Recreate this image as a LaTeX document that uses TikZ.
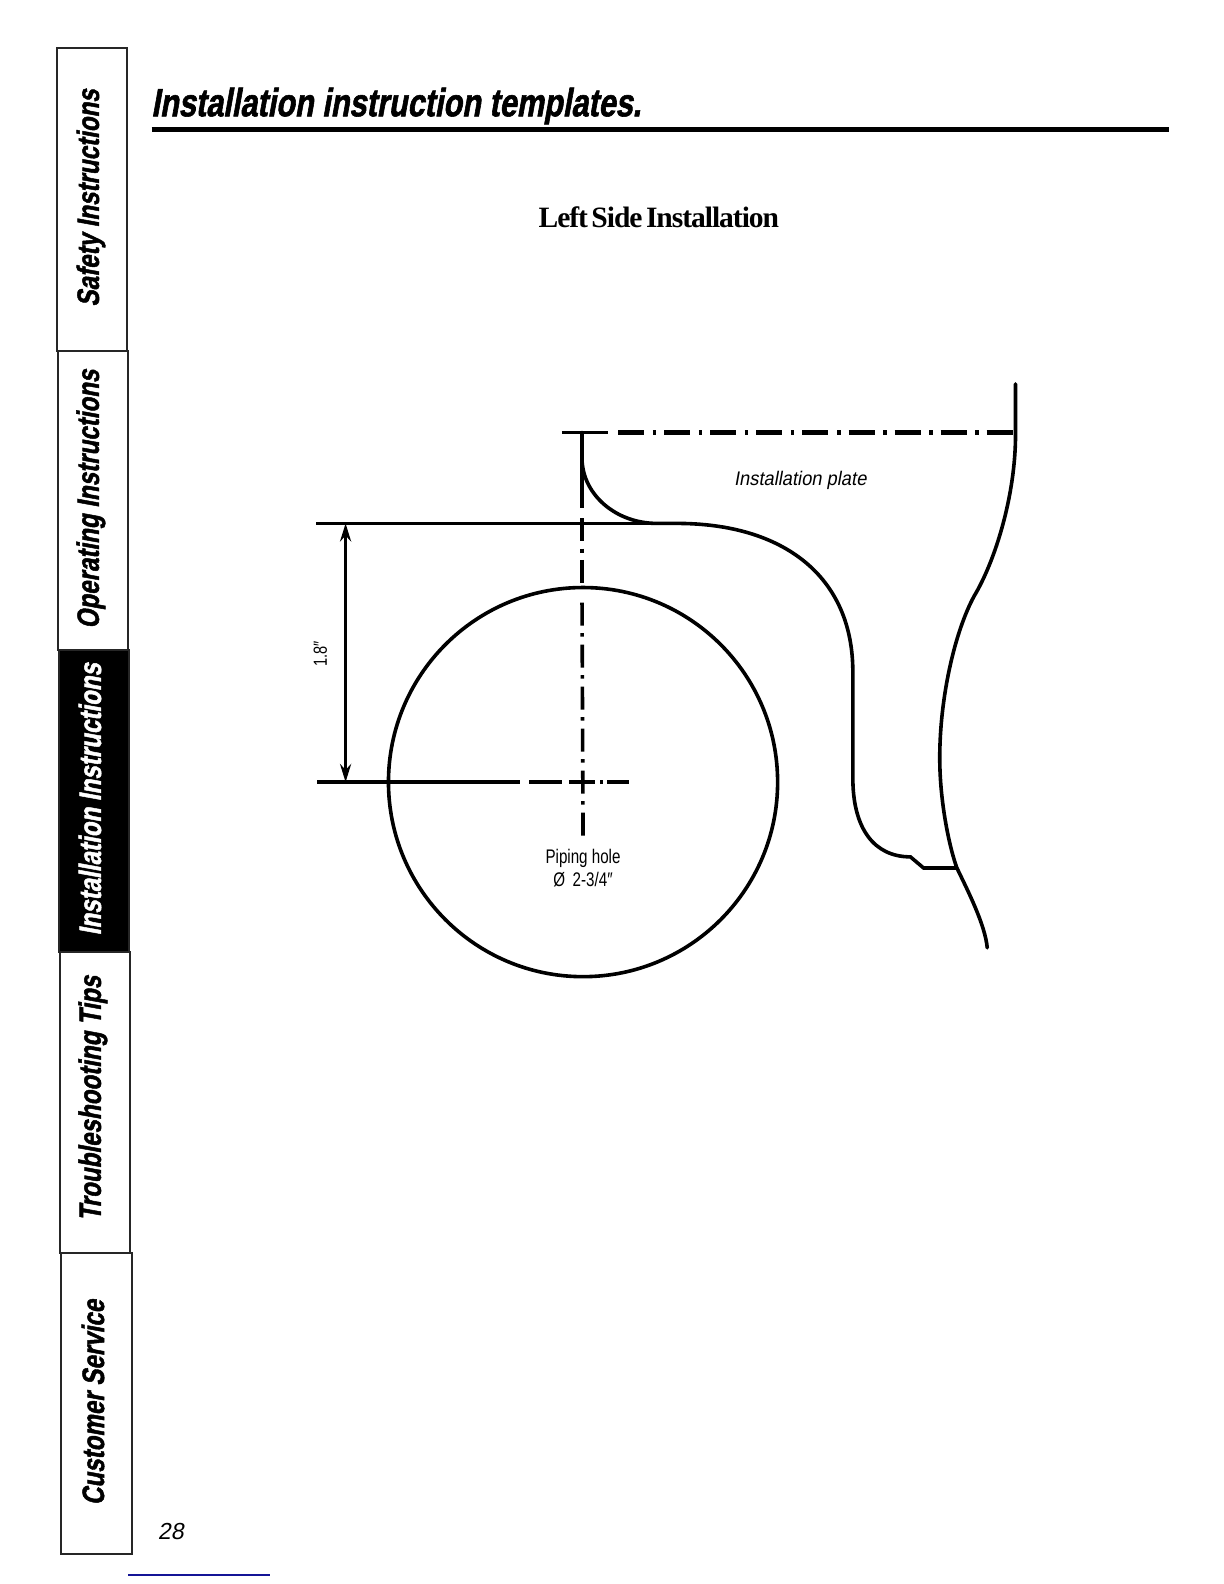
\documentclass[tikz,border=0pt]{standalone}
\usepackage{fontspec}
\usetikzlibrary{arrows.meta}
\setmainfont{Liberation Serif}
\newfontfamily\headfont[FakeStretch=.78,FakeSlant=.18,FakeBold=1.5]{Liberation Sans Bold}
\newfontfamily\subfont[LetterSpace=-3.5,WordSpace=.55]{Liberation Serif Bold}
\newfontfamily\notefont[FakeStretch=.77]{Liberation Sans}
\newfontfamily\noteslant[FakeStretch=.93,FakeSlant=.18]{Liberation Sans}
\newfontfamily\pagefont[FakeSlant=.18]{Liberation Sans}
\definecolor{linkblue}{RGB}{20,20,150}
\tikzset{
    tabbox/.style={draw=black!85,line width=.02cm},
    tablabel/.style={rotate=90,anchor=center,inner sep=0pt,font={\headfont\fontsize{8.8pt}{10pt}\selectfont}},
    outline/.style={line width=.036cm,line cap=round},
    plainline/.style={line width=.036cm},
    planedash/.style={line width=.042cm,dash pattern=on .26cm off .085cm on .035cm off .08cm},
    centerline/.style={line width=.036cm,dash pattern=on .23cm off .08cm on .035cm off .075cm},
    dimline/.style={line width=.033cm},
    note/.style={inner sep=0pt,align=center,font={\notefont\fontsize{5.6pt}{6.4pt}\selectfont}},
}
\begin{document}
\begin{tikzpicture}[x=.010105cm,y=-.010105cm]
    \useasboundingbox (0,0) rectangle (1211.3,1567.6);
    % side tabs
    \draw[tabbox] (56,48) rectangle (126,347);
    \draw[tabbox] (57,347) rectangle (127,643);
    \draw[tabbox,fill=black] (58,643) rectangle (128,942);
    \draw[tabbox] (59,942) rectangle (129,1240);
    \draw[tabbox] (60,1240) rectangle (131,1538);
    \node[tablabel] (safety) at (90,196) {Safety Instructions};
    \node[tablabel] (operating) at (90,494) {Operating Instructions};
    \node[tablabel,text=white] (installing) at (89,791) {Installation Instructions};
    \node[tablabel] (trouble) at (92,1087) {Troubleshooting Tips};
    \node[tablabel] (service) at (92,1388) {Customer Service};
    % heading
    \node[anchor=west,inner sep=0pt,font={\headfont\fontsize{11.2pt}{13pt}\selectfont}] (title) at (149,105) {Installation instruction templates.};
    \draw[line width=.045cm] (150,128) -- (1157,128);
    \node[inner sep=0pt,font={\subfont\fontsize{8.4pt}{9pt}\selectfont}] (subtitle) at (652,215) {Left Side Installation};
    % plate
    \draw[outline] (1005,380) -- (1005,430) .. controls (1005,490) and (985,555) .. (964,590)
        .. controls (945,625) and (930,690) .. (930,750)
        .. controls (930,795) and (940,840) .. (947,859) .. controls (957,880) and (975,915) .. (977,938);
    \draw[outline] (576,428) -- (576,455) .. controls (577,490) and (610,518) .. (650,518)
        -- (670,518) .. controls (775,518) and (844,570) .. (844,665)
        -- (844,770) .. controls (844,820) and (865,848) .. (901,848)
        -- (914,859) -- (947,859);
    \draw[plainline] (556,428) -- (602,428);
    \draw[planedash] (612,428) -- (1004,428);
    \node[note,font={\noteslant\fontsize{5.6pt}{6.6pt}\selectfont}] (plate) at (792,475) {Installation plate};
    % piping hole
    \node[circle,draw,line width=.036cm,minimum size=3.89cm,inner sep=0pt] (hole) at (577,774) {};
    \draw[plainline] (313,518) -- (650,518);
    \draw[plainline] (314,774) -- (515,774);
    \draw[plainline] (524,774) -- (556,774);
    \draw[plainline] (563,774) -- (589,774);
    \draw[plainline] (594,774) -- (597,774);
    \draw[plainline] (601,774) -- (622,774);
    \draw[plainline] (576,428) -- (576,503);
    \draw[plainline] (576,513) -- (576,535);
    \draw[plainline] (576,543) -- (576,547);
    \draw[plainline] (576,554) -- (576,577);
    \draw[centerline] (577,827) -- (576,596);
    \node[note] (piping) at (577,859) {Piping hole\\Ø\, 2-3/4″};
    % dimension
    \coordinate (dimtop) at (342,518);
    \coordinate (dimbot) at (342,774);
    \draw[dimline,{Stealth[length=.18cm,width=.11cm]}-{Stealth[length=.18cm,width=.11cm]}] (dimtop) -- (dimbot);
    \node[note,rotate=90,font={\notefont\fontsize{5.4pt}{6.4pt}\selectfont}] (dimtext) at (317,647) {1.8″};
    % page number
    \node[inner sep=0pt,font={\pagefont\fontsize{6.6pt}{8pt}\selectfont}] (pagenum) at (169,1516) {28};
    \draw[linkblue,line width=.018cm] (127,1559) -- (267,1559);
\end{tikzpicture}
\end{document}
